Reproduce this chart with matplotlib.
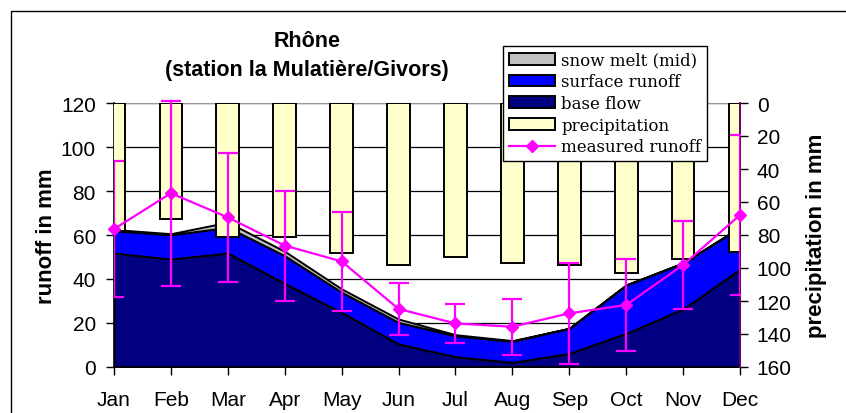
import matplotlib
matplotlib.use("Agg")
import matplotlib.pyplot as plt
from matplotlib.patches import Rectangle, Patch
from matplotlib.lines import Line2D
import numpy as np

plt.rcParams['font.family'] = ['Liberation Sans', 'DejaVu Sans']

months = ['Jan', 'Feb', 'Mar', 'Apr', 'May', 'Jun', 'Jul', 'Aug', 'Sep', 'Oct', 'Nov', 'Dec']
base_flow = [51.8, 49.1, 51.8, 38.0, 24.8, 10.5, 4.7, 2.1, 6.2, 15.3, 26.4, 44.5]
surface_runoff = [10.2, 11.0, 11.7, 12.6, 9.2, 9.8, 9.5, 9.6, 11.4, 22.0, 20.9, 19.0]
snow_melt = [0.5, 0.5, 2.3, 2.0, 1.5, 1.5, 0.5, 0.3, 0.0, 0.0, 0.0, 0.0]
precipitation = [77.4, 70.3, 81.4, 81.4, 91.1, 98.4, 93.5, 97.0, 98.4, 103.0, 94.5, 90.0]
measured_runoff = [62.7, 79.0, 68.0, 55.2, 48.0, 26.4, 19.8, 18.3, 24.4, 28.2, 46.4, 69.1]
measured_error = [31.0, 42.0, 29.5, 25.0, 22.5, 12.0, 8.7, 12.7, 23.0, 21.0, 20.0, 36.5]

C_BASE = '#000080'
C_SURF = '#0000FF'
C_SNOW = '#C0C0C0'
C_PREC = '#FFFFCC'
C_MEAS = '#FF00FF'

W, H = 846, 414
fig = plt.figure(figsize=(W / 100, H / 100), dpi=100)
fig.patch.set_facecolor('white')

left, right, top, bottom = 114, 740, 104, 368
ax = fig.add_axes([left / W, 1 - bottom / H, (right - left) / W, (bottom - top) / H])
x = np.arange(len(months))

# runoff components as stacked areas
ax.stackplot(x, base_flow, surface_runoff, snow_melt,
             colors=[C_BASE, C_SURF, C_SNOW], edgecolor='black', linewidth=1.4)
ax.set_xlim(0, len(months) - 1)
ax.set_ylim(0, 120)
ax.set_yticks(range(0, 121, 20))
ax.set_xticks(x)
ax.set_xticklabels(months)
ax.set_axisbelow(True)
ax.yaxis.grid(True, color='black', linewidth=0.9)
ax.tick_params(axis='y', direction='out', length=6, width=1, pad=7, labelsize=15)
ax.tick_params(axis='x', direction='out', length=6, width=1, pad=10.5, labelsize=15)
ax.spines['top'].set_color('#999999')
ax.spines['right'].set_visible(False)
ax.spines['left'].set_linewidth(1.2)
ax.spines['bottom'].set_linewidth(1.2)
ax.set_ylabel('runoff in mm', fontsize=16, fontweight='bold')
ax.yaxis.set_label_coords(-0.091, 0.5)

# precipitation bars hanging from the top on an inverted axis
ax2 = ax.twinx()
ax2.bar(x, precipitation, width=0.4, color=C_PREC, edgecolor='black', linewidth=1.4)
ax2.set_ylim(160, 0)
ax2.set_yticks(range(0, 161, 20))
ax2.tick_params(axis='y', direction='out', length=6, width=1, pad=6, labelsize=15)
for s in ['top', 'left', 'bottom']:
    ax2.spines[s].set_visible(False)
ax2.spines['right'].set_color('#660066')
ax2.spines['right'].set_linewidth(1.4)
ax2.set_ylabel('precipitation in mm', fontsize=16, fontweight='bold')
ax2.yaxis.set_label_coords(1.105, 0.5)

# measured runoff with error bars
ax3 = ax.twinx()
ax3.set_ylim(0, 120)
ax3.set_xlim(0, len(months) - 1)
ax3.axis('off')
eb = ax3.errorbar(x, measured_runoff, yerr=measured_error, color=C_MEAS,
                  linewidth=1.6, elinewidth=1.6, capsize=7, capthick=1.6,
                  marker='D', markersize=6.5)
clip = Rectangle((0, -0.05), 1, 1.1, transform=ax3.transAxes, visible=False)
ax3.add_patch(clip)
data_line, caplines, barcols = eb.lines
data_line.set_clip_on(False)
for c in caplines:
    c.set_clip_path(clip)
for b in barcols:
    b.set_clip_path(clip)

handles = [
    Patch(facecolor=C_SNOW, edgecolor='black', linewidth=1.4, label='snow melt (mid)'),
    Patch(facecolor=C_SURF, edgecolor='black', linewidth=1.4, label='surface runoff'),
    Patch(facecolor=C_BASE, edgecolor='black', linewidth=1.4, label='base flow'),
    Patch(facecolor=C_PREC, edgecolor='black', linewidth=1.4, label='precipitation'),
    Line2D([], [], color=C_MEAS, linewidth=1.6, marker='D', markersize=6.5, label='measured runoff'),
]
leg = ax3.legend(handles=handles, loc='upper left', bbox_to_anchor=(0.621, 1.216),
                 prop={'family': 'DejaVu Serif', 'size': 12}, frameon=True, fancybox=False,
                 edgecolor='black', framealpha=1, borderpad=0.35, labelspacing=0.28,
                 handlelength=2.8, handletextpad=0.35, borderaxespad=0)
leg.get_frame().set_linewidth(1.0)
leg.set_zorder(10)

fig.text(307 / W, 1 - 56.5 / H, 'Rhône\n(station la Mulatière/Givors)', ha='center', va='center',
         fontsize=15.5, fontweight='bold', linespacing=1.5)

# outer chart frame
fig.patches.append(Rectangle((11 / W, -0.1), 1.2, 1.1 - 12 / H, transform=fig.transFigure,
                             fill=False, edgecolor='black', linewidth=1.0))

fig.savefig('out.png', dpi=100)
